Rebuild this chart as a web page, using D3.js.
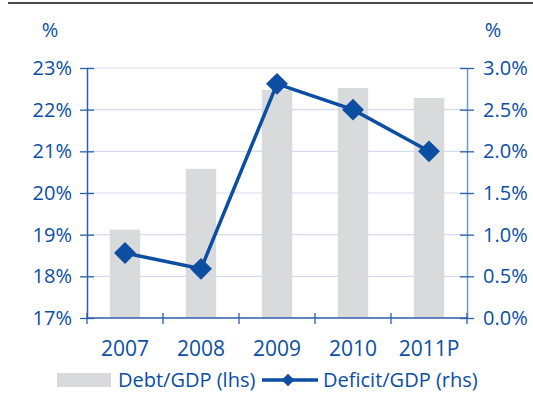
<!DOCTYPE html>
<html>
<head>
<meta charset="utf-8">
<script src="https://cdn.jsdelivr.net/npm/d3@7"></script>
<style>
body { margin: 0; background: #fff; }
svg { display: block; font-family: "Open Sans", sans-serif; }
</style>
</head>
<body>
<script>
"use strict";
const years = ["2007", "2008", "2009", "2010", "2011P"];
const debt = [19.12, 20.58, 22.47, 22.52, 22.28];
const deficit = [0.78, 0.59, 2.81, 2.5, 2.0];
const leftTicks = [17, 18, 19, 20, 21, 22, 23];
const rightTicks = [0, 0.5, 1, 1.5, 2, 2.5, 3];

const w = 533, h = 406;
const pl = 87, pr = 467, pt = 68, pb = 318;
const blue = "#0b4ea2";
const svg = d3.select("body").append("svg").attr("width", w).attr("height", h);

svg.append("rect").attr("x", 8).attr("y", 2).attr("width", w - 8).attr("height", 2).attr("fill", "#474b51");

const x = d3.scaleBand().domain(years).range([pl, pr]).paddingInner(0.6).paddingOuter(0.3);
const yL = d3.scaleLinear().domain([17, 23]).range([pb, pt]);
const yR = d3.scaleLinear().domain([0, 3]).range([pb, pt]);

// grid
svg.append("g").selectAll("line").data(leftTicks.slice(1)).enter().append("line")
	.attr("x1", pl).attr("x2", pr).attr("y1", d => yL(d)).attr("y2", d => yL(d))
	.attr("stroke", "#d5dbec").attr("stroke-width", 1.2);

// bars
svg.append("g").selectAll("rect").data(debt).enter().append("rect")
	.attr("x", (d, i) => x(years[i])).attr("width", x.bandwidth())
	.attr("y", d => yL(d)).attr("height", d => pb - yL(d))
	.attr("fill", "#d9dadc");

// axes
const yAxisL = d3.axisLeft(yL).tickValues(leftTicks).tickFormat(d => d + "%").tickSizeInner(-7).tickSizeOuter(0).tickPadding(15);
const gl = svg.append("g").attr("transform", "translate(" + pl + ",0)").call(yAxisL);
const yAxisR = d3.axisRight(yR).tickValues(rightTicks).tickFormat(d => d.toFixed(1) + "%").tickSizeInner(-7).tickSizeOuter(0).tickPadding(16);
const gr = svg.append("g").attr("transform", "translate(" + pr + ",0)").call(yAxisR);
const xEdges = d3.scaleLinear().domain([0, years.length]).range([pl, pr]);
const gx = svg.append("g").attr("transform", "translate(0," + pb + ")");
gx.append("line").attr("x1", pl).attr("x2", pr).attr("stroke", "#2c5fab").attr("stroke-width", 1.5);
gx.selectAll(".edge").data(d3.range(years.length + 1)).enter().append("line")
	.attr("x1", d => xEdges(d)).attr("x2", d => xEdges(d)).attr("y1", -5).attr("y2", 6)
	.attr("stroke", "#2c5fab").attr("stroke-width", 1.3);
gx.selectAll("text").data(years).enter().append("text")
	.attr("x", d => x(d) + x.bandwidth() / 2).attr("y", 38)
	.attr("text-anchor", "middle").attr("fill", blue).attr("font-size", 21).text(d => d);

[gl, gr].forEach(g => {
	g.select(".domain").attr("stroke", "#6f98cf").attr("stroke-width", 1.5);
	g.selectAll(".tick line").attr("stroke", "#2c5fab").attr("stroke-width", 1.3)
		.attr("x1", -7).attr("x2", 7);
	g.selectAll(".tick text").attr("fill", blue).attr("font-size", 20).attr("font-family", "Open Sans");
});
gl.select(".domain").attr("stroke", "#2c5fab");

svg.append("text").attr("x", 50).attr("y", 37).attr("text-anchor", "middle").attr("fill", blue).attr("font-size", 20).text("%");
svg.append("text").attr("x", 493).attr("y", 37).attr("text-anchor", "middle").attr("fill", blue).attr("font-size", 20).text("%");

// deficit line
const cx = (d, i) => x(years[i]) + x.bandwidth() / 2;
const line = d3.line().x(cx).y(d => yR(d));
svg.append("path").datum(deficit).attr("d", line).attr("fill", "none").attr("stroke", blue).attr("stroke-width", 3.5);
const diamond = d3.symbol().type(d3.symbolSquare).size(240);
svg.append("g").selectAll("path").data(deficit).enter().append("path")
	.attr("d", diamond).attr("fill", blue)
	.attr("transform", (d, i) => "translate(" + cx(d, i) + "," + yR(d) + ") rotate(45)");

// legend
const lg = svg.append("g");
lg.append("rect").attr("x", 57).attr("y", 373).attr("width", 54).attr("height", 14).attr("fill", "#d9dadc");
lg.append("text").attr("x", 118).attr("y", 387).attr("fill", blue).attr("font-size", 20).text("Debt/GDP (lhs)");
lg.append("line").attr("x1", 262).attr("x2", 318).attr("y1", 380).attr("y2", 380).attr("stroke", blue).attr("stroke-width", 3.5);
lg.append("path").attr("d", d3.symbol().type(d3.symbolSquare).size(80)).attr("fill", blue).attr("transform", "translate(288,380) rotate(45)");
lg.append("text").attr("x", 323).attr("y", 387).attr("fill", blue).attr("font-size", 20).text("Deficit/GDP (rhs)");
</script>
</body>
</html>
